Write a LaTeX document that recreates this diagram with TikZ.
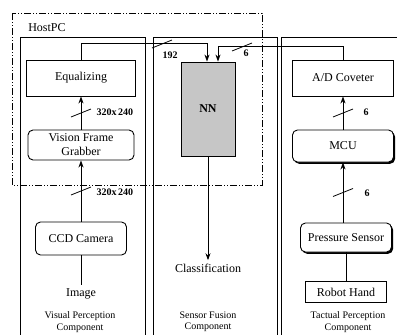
\documentclass[tikz,border=0pt]{standalone}
\usepackage{fontspec}
\setmainfont{Liberation Serif}
\usetikzlibrary{arrows.meta,calc,positioning,shadows}

\newcommand{\busmark}[1]{\draw[wire] (#1) ++(-10,4) -- ++(20,-8);}

\begin{document}
\begin{tikzpicture}[x=1pt,y=-1pt,
  box/.style={draw,line width=0.9pt,font=\fontsize{12}{15}\selectfont,inner sep=1pt},
  rbox/.style={box,rounded corners=5pt},
  sbox/.style={rbox,fill=white,drop shadow={shadow xshift=1.6pt,shadow yshift=-1.8pt,fill=black,opacity=1}},
  lab/.style={font=\fontsize{10}{11.5}\selectfont,align=center},
  num/.style={font=\fontsize{10}{12}\selectfont\bfseries},
  arr/.style={-{Stealth[length=7pt,width=5pt]},line width=0.8pt},
  wire/.style={line width=0.8pt}]
  \clip (0,0) rectangle (397,335);
  % host pc border
  \draw[line width=0.8pt,dash pattern=on 7pt off 2pt on 1pt off 2pt on 1pt off 2pt]
    (12,13) rectangle (262,185);
  \node[font=\fontsize{12}{14}\selectfont] (host) at (47,28) {HostPC};
  % component panels
  \draw[line width=0.9pt] (20,345) |- (145,37) -- (145,345);
  \draw[line width=0.9pt] (153,345) |- (277,37) -- (277,345);
  \draw[line width=0.9pt] (281,345) |- (400,37);

  % visual perception
  \node[box,minimum width=109,minimum height=36] (equal) at (81,78) {Equalizing};
  \node[rbox,minimum width=106,minimum height=30,align=center] (grab) at (81,145)
    {Vision Frame\\[-1pt]Grabber};
  \node[rbox,minimum width=91,minimum height=33] (ccd) at (81,238.5) {CCD Camera};
  \node[font=\fontsize{12}{14}\selectfont] (image) at (81,294) {Image};
  \node[lab] (vislab) at (80,322) {Visual Perception\\Component};

  % sensor fusion
  \node[box,fill=gray!45,minimum width=54,minimum height=94,
    font=\fontsize{12}{14}\selectfont\bfseries] (nn) at (208,109) {NN};
  \node[font=\fontsize{12}{14}\selectfont] (classif) at (208,268) {Classification};
  \node[lab] (fuslab) at (208,322) {Sensor Fusion\\Component};

  % tactual perception
  \node[box,minimum width=101,minimum height=36] (adc) at (343,78) {A/D Coveter};
  \node[sbox,minimum width=101,minimum height=32] (mcu) at (343,146) {MCU};
  \node[sbox,minimum width=91,minimum height=29] (psensor) at (346,237.5) {Pressure Sensor};
  \node[box,minimum width=81,minimum height=21] (hand) at (346,292) {Robot Hand};
  \node[lab] (taclab) at (348,322) {Tactual Perception\\Component};

  % connectors
  \draw[wire] (ccd) -- (image);
  \draw[arr] (ccd) -- (grab);
  \draw[arr] (grab) -- (equal);
  \draw[arr] (equal.north) -- ++(0,-16) -| ([xshift=-1pt]nn.north);
  \draw[arr] (adc.north) -- ++(0,-13) -| ([xshift=10pt]nn.north);
  \draw[arr] (nn) -- (classif);
  \draw[wire] (hand) -- (psensor);
  \draw[arr] (psensor.north -| mcu) -- (mcu);
  \draw[arr] (mcu) -- (adc);

  % bus widths
  \busmark{$(grab.north)!0.5!(equal.south)$}
  \node[num,anchor=west] (w1) at (93,112) {320x\,240};
  \busmark{$(ccd.north)!0.5!(grab.south)$}
  \node[num,anchor=west] (w2) at (93,192) {320x\,240};
  \busmark{162,44}
  \node[num] (w3) at (170,55) {192};
  \busmark{242,47}
  \node[num] (w4) at (246,53) {6};
  \busmark{$(mcu.north)!0.5!(adc.south)$}
  \node[num,anchor=west] (w5) at (360,112) {6};
  \busmark{$(psensor.north -| mcu)!0.5!(mcu.south)$}
  \node[num,anchor=west] (w6) at (361,193) {6};
\end{tikzpicture}
\end{document}
